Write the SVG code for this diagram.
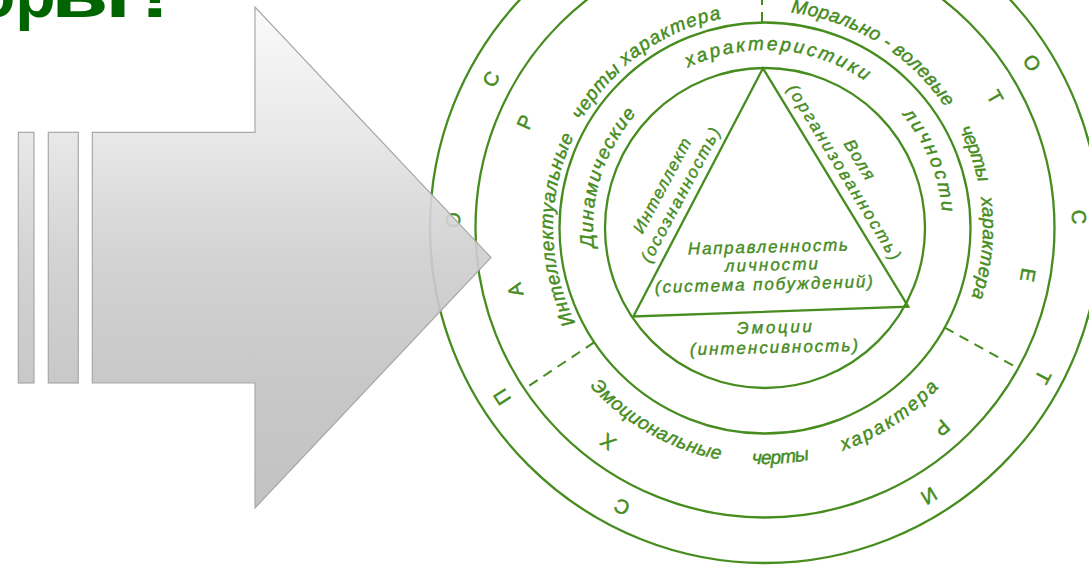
<svg xmlns="http://www.w3.org/2000/svg" width="1089" height="566" viewBox="0 0 1089 566">
<style>
.ln{fill:none;stroke:#468c1e;stroke-width:2.3}
.dash{fill:none;stroke:#468c1e;stroke-width:2;stroke-dasharray:10 7}
.rt{font-family:"Liberation Sans",Arial,sans-serif;font-style:italic;font-size:19px;fill:#468c1e;stroke:#468c1e;stroke-width:0.45}
.tt{font-family:"Liberation Sans",Arial,sans-serif;font-style:italic;font-size:17px;fill:#468c1e;stroke:#468c1e;stroke-width:0.4}
.lt{font-family:"Liberation Sans",Arial,sans-serif;font-size:20px;fill:#468c1e;stroke:#468c1e;stroke-width:0.5;text-anchor:middle}
.title{font-family:"Liberation Sans",Arial,sans-serif;font-weight:bold;font-size:66px;fill:#006400}
.arr{fill:url(#g);fill-opacity:0.9;stroke:#a8a8a8;stroke-width:1.2}
</style>
<defs>
<linearGradient id="g" gradientUnits="userSpaceOnUse" x1="0" y1="7" x2="0" y2="508">
<stop offset="0" stop-color="#fafafa"/>
<stop offset="0.25" stop-color="#e6e6e6"/>
<stop offset="0.5" stop-color="#cecece"/>
<stop offset="0.75" stop-color="#c2c2c2"/>
<stop offset="1" stop-color="#bcbcbc"/>
</linearGradient>
<path id="pDin" d="M594.07,247.17 A172,172 0 0 1 636.38,113.80"/>
<path id="pHar1" d="M688.10,67.47 A178,178 0 0 1 865.82,81.30"/>
<path id="pLich" d="M902.15,114.54 A178,178 0 0 1 942.32,212.49"/>
<path id="pInt" d="M575.44,322.93 A212,212 0 0 1 573.65,136.73"/>
<path id="pCh1" d="M581.11,120.51 A213,213 0 0 1 620.82,71.21"/>
<path id="pHar2" d="M625.31,65.88 A214,214 0 0 1 721.24,18.52"/>
<path id="pMor" d="M790.69,12.53 A217,217 0 0 1 945.53,107.60"/>
<path id="pCh2" d="M959.24,129.03 A218,218 0 0 1 978.24,182.67"/>
<path id="pHar3" d="M980.88,197.66 A218,218 0 0 1 971.49,297.89"/>
<path id="pEmo" d="M589.89,386.22 A236,236 0 0 0 719.97,459.66"/>
<path id="pCh3" d="M751.83,463.63 A236,236 0 0 0 809.63,459.74"/>
<path id="pHar4" d="M843.00,450.74 A236,236 0 0 0 939.28,387.13"/>
</defs>

<g id="title"><text class="title" y="17"><tspan x="-25">ор</tspan><tspan x="51" textLength="80" lengthAdjust="spacingAndGlyphs">ы</tspan><tspan x="140" textLength="30" lengthAdjust="spacingAndGlyphs">!</tspan></text></g>

<g id="circles">
<circle class="ln" cx="765" cy="228" r="160"/>
<circle class="ln" cx="765" cy="228" r="205.5"/>
<circle class="ln" cx="765" cy="228" r="289.5"/>
<circle class="ln" cx="765" cy="228" r="335"/>
</g>

<g id="connectors">
<line class="dash" x1="762" y1="22" x2="762" y2="-62"/>
<line class="dash" x1="594.13" y1="342.32" x2="524.29" y2="389.05"/>
<line class="dash" x1="944.73" y1="327.63" x2="1018.2" y2="368.35"/>
</g>

<g id="triangle">
<path class="ln" d="M763,68.3 L633.3,316.5 L908.3,306.7 Z"/>
</g>

<g id="ring-dynamic">
<text class="rt"><textPath href="#pDin" textLength="144" lengthAdjust="spacing">Динамические</textPath></text>
<text class="rt"><textPath href="#pHar1" textLength="186" lengthAdjust="spacing">характеристики</textPath></text>
<text class="rt"><textPath href="#pLich" textLength="107" lengthAdjust="spacing">личности</textPath></text>
</g>

<g id="ring-intellect">
<text class="rt"><textPath href="#pInt" textLength="193" lengthAdjust="spacing">Интеллектуальные</textPath></text>
<text class="rt"><textPath href="#pCh1" textLength="64" lengthAdjust="spacing">черты</textPath></text>
<text class="rt"><textPath href="#pHar2" textLength="108" lengthAdjust="spacing">характера</textPath></text>
</g>

<g id="ring-moral">
<text class="rt"><textPath href="#pMor" textLength="187" lengthAdjust="spacing">Морально - волевые</textPath></text>
<text class="rt"><textPath href="#pCh2" textLength="57" lengthAdjust="spacing">черты</textPath></text>
<text class="rt"><textPath href="#pHar3" textLength="101" lengthAdjust="spacing">характера</textPath></text>
</g>

<g id="ring-emotional">
<text class="rt"><textPath href="#pEmo" textLength="152" lengthAdjust="spacing">Эмоциональные</textPath></text>
<text class="rt"><textPath href="#pCh3" textLength="58" lengthAdjust="spacing">черты</textPath></text>
<text class="rt"><textPath href="#pHar4" textLength="116" lengthAdjust="spacing">характера</textPath></text>
</g>

<g id="letters-outer">
<text class="lt" transform="translate(622,507) rotate(207.1)" y="7">С</text>
<text class="lt" transform="translate(502,397) rotate(237.3)" y="7">П</text>
<text class="lt" transform="translate(453,220) rotate(271.5)" y="7">О</text>
<text class="lt" transform="translate(491,79) rotate(298.5)" y="7">С</text>
<text class="lt" transform="translate(1032,63) rotate(58.2)" y="7">О</text>
<text class="lt" transform="translate(1079,217) rotate(88)" y="7">С</text>
<text class="lt" transform="translate(1043,377) rotate(118.2)" y="7">Т</text>
<text class="lt" transform="translate(929,496) rotate(148.5)" y="7">И</text>
</g>

<g id="letters-middle">
<text class="lt" transform="translate(608,442) rotate(216.3)" y="7">Х</text>
<text class="lt" transform="translate(515,290) rotate(256.1)" y="7">А</text>
<text class="lt" transform="translate(525,122) rotate(293.8)" y="7">Р</text>
<text class="lt" transform="translate(995,97) rotate(60.3)" y="7">Т</text>
<text class="lt" transform="translate(1028,275) rotate(100.1)" y="7">Е</text>
<text class="lt" transform="translate(942,428) rotate(138.5)" y="7">Р</text>
</g>

<g id="node-intellect">
<text class="tt" text-anchor="middle" transform="translate(662.7,186) rotate(-62)" y="5" textLength="105" lengthAdjust="spacing">Интеллект</text>
<text class="tt" text-anchor="middle" transform="translate(681,195.3) rotate(-62)" y="5" textLength="150" lengthAdjust="spacing">(осознанность)</text>
</g>

<g id="node-will">
<text class="tt" text-anchor="middle" transform="translate(859,160) rotate(58.6)" y="5" textLength="44" lengthAdjust="spacing">Воля</text>
<text class="tt" text-anchor="middle" transform="translate(843.5,172.5) rotate(58.6)" y="5" textLength="202" lengthAdjust="spacing">(организованность)</text>
</g>

<g id="node-direction">
<text class="tt" text-anchor="middle" transform="rotate(-1.5 768 250)" x="768" y="252.5" textLength="160" lengthAdjust="spacing">Направленность</text>
<text class="tt" text-anchor="middle" transform="rotate(-1.5 771 268)" x="771.5" y="270.5" textLength="93" lengthAdjust="spacing">личности</text>
<text class="tt" text-anchor="middle" transform="rotate(-1.5 764 287)" x="764" y="290" textLength="218" lengthAdjust="spacing">(система побуждений)</text>
</g>

<g id="node-emotions">
<text class="tt" text-anchor="middle" transform="rotate(-1.5 774 330)" x="774.5" y="333" textLength="75" lengthAdjust="spacing">Эмоции</text>
<text class="tt" text-anchor="middle" transform="rotate(-1.5 774 350)" x="774" y="353" textLength="168" lengthAdjust="spacing">(интенсивность)</text>
</g>

<g id="arrow">
<rect class="arr" x="18.3" y="132.3" width="15.7" height="250.7"/>
<rect class="arr" x="48.3" y="132.3" width="30" height="250.7"/>
<path class="arr" d="M92.3,132.3 H255 V7 L491,257.5 L255,508 V383 H92.3 Z"/>
</g>
</svg>
